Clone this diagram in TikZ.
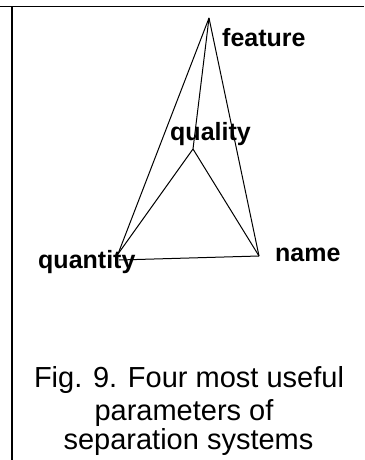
\documentclass[tikz,border=0pt]{standalone}
\usepackage{fontspec}
\setmainfont{Liberation Sans}
\begin{document}
\begin{tikzpicture}[x=1pt,y=-1pt,
  edge/.style={line width=1pt},
  frameline/.style={line width=1.6pt},
  lbl/.style={font=\fontsize{25}{30}\selectfont\bfseries, inner sep=0pt, anchor=base west},
  captext/.style={font=\fontsize{29}{33}\selectfont, inner sep=0pt, anchor=base}]
\useasboundingbox (0,0) rectangle (364,460);
% frame
\coordinate (tl) at (0,6.5);
\coordinate (tr) at (364,6.5);
\coordinate (vt) at (12,6.5);
\coordinate (vb) at (12,460);
\draw[frameline] (tl) -- (tr);
\draw[line width=2pt] (vt) -- (vb);
% vertices
\coordinate (F) at (209,18);
\coordinate (Q) at (193,149);
\coordinate (Qn) at (118,254);
\coordinate (Qnb) at (119,260);
\coordinate (N) at (259,256);
% edges
\draw[edge] (F) -- (Qn);
\draw[edge] (F) -- (Q);
\draw[edge] (F) -- (N);
\draw[edge] (Q) -- (Qn);
\draw[edge] (Q) -- (N);
\draw[edge] (Qnb) -- (N);
% labels
\node[lbl] (lfeature) at (222,46.5) {feature};
\node[lbl] (lquality) at (170,140) {quality};
\node[lbl] (lquantity) at (38,268) {quantity};
\node[lbl] (lname) at (275,261) {name};
% caption
\node[captext] (c1) at (189,387) {Fig. 9. Four most useful};
\node[captext] (c2) at (184,420) {parameters of};
\node[captext] (c3) at (188.5,449) {separation systems};
\end{tikzpicture}
\end{document}
